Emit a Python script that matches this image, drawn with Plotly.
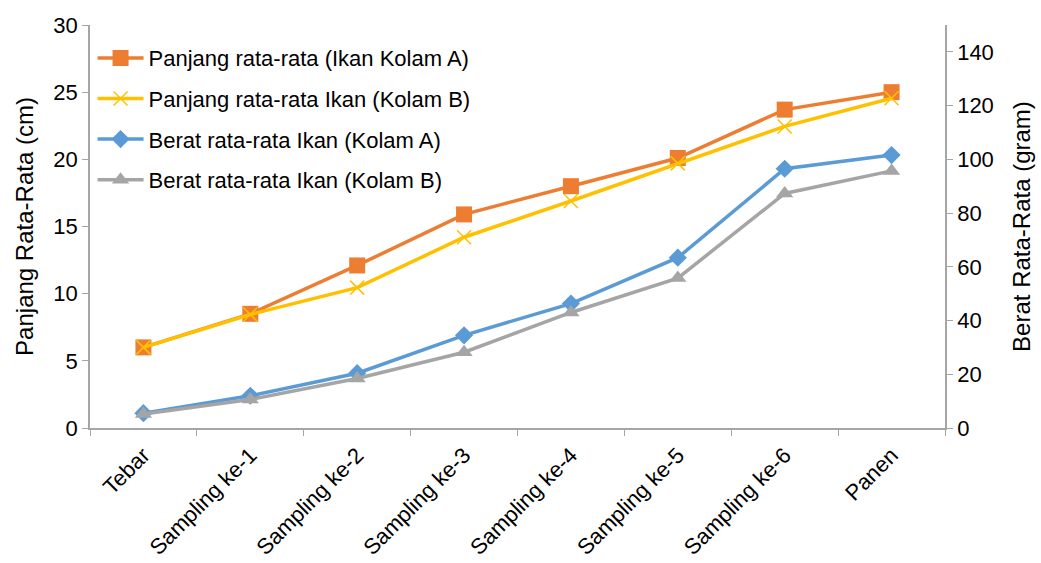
import plotly.graph_objects as go

categories = ["Tebar", "Sampling ke-1", "Sampling ke-2", "Sampling ke-3",
              "Sampling ke-4", "Sampling ke-5", "Sampling ke-6", "Panen"]

panjang_a = [6.0, 8.5, 12.1, 15.9, 18.0, 20.1, 23.7, 25.0]
panjang_b = [6.0, 8.45, 10.45, 14.2, 16.9, 19.7, 22.45, 24.55]
berat_a = [5.5, 12.0, 20.4, 34.5, 46.3, 63.4, 96.5, 101.6]
berat_b = [5.2, 10.6, 18.4, 28.2, 43.0, 55.8, 87.3, 95.7]

left_ticks = [0, 5, 10, 15, 20, 25, 30]
right_ticks = [0, 20, 40, 60, 80, 100, 120, 140]

FONT = "Liberation Sans, Arial, sans-serif"
AXIS_COLOR = "#a6a6a6"

series = [
    ("Panjang rata-rata (Ikan Kolam A)", panjang_a, "y", "#ED7D31", "square", 16),
    ("Panjang rata-rata Ikan (Kolam B)", panjang_b, "y", "#FFC000", "x-thin-open", 14),
    ("Berat rata-rata Ikan (Kolam A)", berat_a, "y2", "#5B9BD5", "diamond", 14),
    ("Berat rata-rata Ikan (Kolam B)", berat_b, "y2", "#A5A5A5", "triangle-up", 15),
]

fig = go.Figure()
for i, (name, vals, yax, color, symbol, size) in enumerate(series):
    marker = dict(symbol=symbol, size=size, color=color)
    if symbol == "x-thin-open":
        marker["line"] = dict(color=color, width=1.5)
    fig.add_trace(go.Scatter(
        x=categories, y=vals, name=name, yaxis=yax,
        mode="lines+markers",
        line=dict(color=color, width=3.5),
        marker=marker,
        legendgroup=f"g{i}",
    ))

fig.update_layout(
    width=1041, height=563,
    margin=dict(l=90, r=96, t=25, b=135),
    paper_bgcolor="white", plot_bgcolor="white",
    font=dict(family=FONT, size=22, color="#000000"),
    showlegend=True,
    legend=dict(x=0.003, y=0.97, xanchor="left", yanchor="top",
                font=dict(family=FONT, size=22, color="#000000"),
                bgcolor="rgba(0,0,0,0)", tracegroupgap=9,
                itemwidth=46),
    xaxis=dict(
        type="category", range=[-0.5, 7.5], automargin=False,
        showline=True, linecolor=AXIS_COLOR, linewidth=1.5,
        showgrid=False, zeroline=False,
        ticks="outside", ticklen=6, tickcolor=AXIS_COLOR,
        tickson="boundaries", tickangle=-45, ticklabelstandoff=4,
        tickfont=dict(family=FONT, size=22, color="#000000"),
    ),
    yaxis=dict(
        range=[0, 30], tickvals=left_ticks, automargin=False,
        showline=True, linecolor=AXIS_COLOR, linewidth=1.5,
        showgrid=False, zeroline=False,
        ticks="outside", ticklen=6, tickcolor=AXIS_COLOR,
        tickfont=dict(family=FONT, size=22, color="#000000"),
        title=dict(text="Panjang Rata-Rata (cm)", standoff=13,
                   font=dict(family=FONT, size=24, color="#000000")),
    ),
    yaxis2=dict(
        range=[0, 150], tickvals=right_ticks, automargin=False,
        overlaying="y", side="right",
        showline=True, linecolor=AXIS_COLOR, linewidth=1.5,
        showgrid=False, zeroline=False,
        ticks="outside", ticklen=6, tickcolor=AXIS_COLOR,
        tickfont=dict(family=FONT, size=22, color="#000000"),
        title=dict(text="Berat Rata-Rata (gram)", standoff=20,
                   font=dict(family=FONT, size=24, color="#000000")),
    ),
)

fig.write_html("out.html")
